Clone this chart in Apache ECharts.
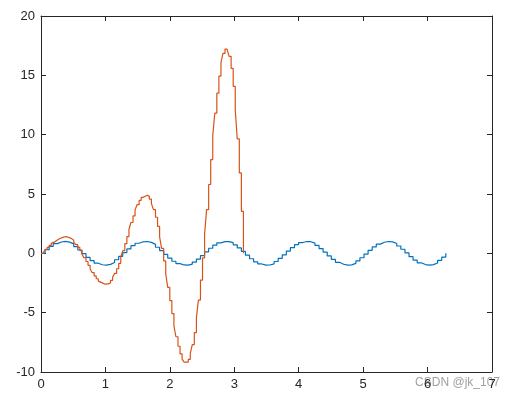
<!DOCTYPE html>
<html>
<head>
<meta charset="utf-8">
<script src="https://cdn.jsdelivr.net/npm/echarts@6/dist/echarts.min.js"></script>
<style>
  html, body { margin: 0; padding: 0; background: #fff; }
  #main { width: 510px; height: 403px; }
</style>
</head>
<body>
<div id="main"></div>
<script>
// stairs plot: blue sampled over [0, 2pi], orange over [0, pi], 100 samples each
var blueX = [
  0, 0.063, 0.127, 0.190, 0.254, 0.317, 0.381, 0.444, 0.508, 0.571,
  0.635, 0.698, 0.762, 0.825, 0.889, 0.952, 1.015, 1.079, 1.142, 1.206,
  1.269, 1.333, 1.396, 1.460, 1.523, 1.587, 1.650, 1.714, 1.777, 1.841,
  1.904, 1.967, 2.031, 2.094, 2.158, 2.221, 2.285, 2.348, 2.412, 2.475,
  2.539, 2.602, 2.666, 2.729, 2.793, 2.856, 2.919, 2.983, 3.046, 3.110,
  3.173, 3.237, 3.300, 3.364, 3.427, 3.491, 3.554, 3.618, 3.681, 3.745,
  3.808, 3.871, 3.935, 3.998, 4.062, 4.125, 4.189, 4.252, 4.316, 4.379,
  4.443, 4.506, 4.570, 4.633, 4.697, 4.760, 4.823, 4.887, 4.950, 5.014,
  5.077, 5.141, 5.204, 5.268, 5.331, 5.395, 5.458, 5.522, 5.585, 5.649,
  5.712, 5.775, 5.839, 5.902, 5.966, 6.029, 6.093, 6.156, 6.220, 6.283
];
var blueY = [
  0, 0.312, 0.593, 0.815, 0.955, 1.000, 0.945, 0.796, 0.567, 0.282,
  -0.032, -0.342, -0.618, -0.833, -0.964, -0.999, -0.934, -0.776, -0.541, -0.251,
  0.063, 0.372, 0.643, 0.850, 0.972, 0.997, 0.922, 0.756, 0.514, 0.220,
  -0.095, -0.401, -0.667, -0.866, -0.979, -0.994, -0.910, -0.735, -0.486, -0.189,
  0.127, 0.430, 0.690, 0.882, 0.985, 0.990, 0.896, 0.713, 0.458, 0.158,
  -0.158, -0.458, -0.713, -0.896, -0.990, -0.985, -0.882, -0.690, -0.430, -0.127,
  0.189, 0.486, 0.735, 0.910, 0.994, 0.979, 0.866, 0.667, 0.401, 0.095,
  -0.220, -0.514, -0.756, -0.922, -0.997, -0.972, -0.850, -0.643, -0.372, -0.063,
  0.251, 0.541, 0.776, 0.934, 0.999, 0.964, 0.833, 0.618, 0.342, 0.032,
  -0.282, -0.567, -0.796, -0.945, -1.000, -0.955, -0.815, -0.593, -0.312, 0
];
var orangeX = [
  0, 0.032, 0.063, 0.095, 0.127, 0.159, 0.190, 0.222, 0.254, 0.286,
  0.317, 0.349, 0.381, 0.413, 0.444, 0.476, 0.508, 0.539, 0.571, 0.603,
  0.635, 0.666, 0.698, 0.730, 0.762, 0.793, 0.825, 0.857, 0.889, 0.920,
  0.952, 0.984, 1.015, 1.047, 1.079, 1.111, 1.142, 1.174, 1.206, 1.238,
  1.269, 1.301, 1.333, 1.365, 1.396, 1.428, 1.460, 1.491, 1.523, 1.555,
  1.587, 1.618, 1.650, 1.682, 1.714, 1.745, 1.777, 1.809, 1.841, 1.872,
  1.904, 1.936, 1.967, 1.999, 2.031, 2.063, 2.094, 2.126, 2.158, 2.190,
  2.221, 2.253, 2.285, 2.317, 2.348, 2.380, 2.412, 2.443, 2.475, 2.507,
  2.539, 2.570, 2.602, 2.634, 2.666, 2.697, 2.729, 2.761, 2.793, 2.824,
  2.856, 2.888, 2.919, 2.951, 2.983, 3.015, 3.046, 3.078, 3.110, 3.142
];
var orangeY = [
  0, 0.16, 0.33, 0.50, 0.67, 0.84, 0.99, 1.12, 1.23, 1.32,
  1.37, 1.40, 1.38, 1.33, 1.24, 1.11, 0.94, 0.74, 0.50, 0.23,
  -0.06, -0.37, -0.69, -1.01, -1.32, -1.62, -1.90, -2.14, -2.34, -2.49,
  -2.59, -2.62, -2.58, -2.47, -2.28, -2.02, -1.69, -1.30, -0.84, -0.33,
  0.23, 0.81, 1.41, 2.01, 2.60, 3.15, 3.66, 4.10, 4.46, 4.72,
  4.87, 4.90, 4.80, 4.57, 4.19, 3.68, 3.04, 2.27, 1.39, 0.41,
  -0.64, -1.74, -2.87, -3.99, -5.08, -6.11, -7.03, -7.83, -8.47, -8.92,
  -9.16, -9.17, -8.94, -8.44, -7.69, -6.68, -5.42, -3.94, -2.25, -0.39,
  1.60, 3.68, 5.80, 7.90, 9.92, 11.81, 13.50, 14.94, 16.07, 16.85,
  17.21, 17.14, 16.60, 15.58, 14.07, 12.08, 9.64, 6.78, 3.54, 0
];
var xTicks = [0, 7, 1];
var yTicks = [-10, 20, 5];

function pairs(xs, ys) {
  return xs.map(function (x, i) { return [x, ys[i]]; });
}

var chart = echarts.init(document.getElementById('main'));
var axisCol = '#262626';
var font = 'Liberation Sans, Arial, sans-serif';

var option = {
  animation: false,
  backgroundColor: '#fff',
  grid: { left: 41, right: 18, top: 16, bottom: 31, containLabel: false },
  xAxis: [{
    type: 'value', min: xTicks[0], max: xTicks[1], interval: xTicks[2],
    axisLine: { show: true, onZero: false, lineStyle: { color: axisCol, width: 1 } },
    axisTick: { show: true, inside: true, length: 5, lineStyle: { color: axisCol } },
    axisLabel: { color: axisCol, fontSize: 13, fontFamily: font, margin: 6 },
    splitLine: { show: false }
  }, {
    type: 'value', position: 'top', min: xTicks[0], max: xTicks[1], interval: xTicks[2],
    axisLine: { show: true, onZero: false, lineStyle: { color: axisCol, width: 1 } },
    axisTick: { show: true, inside: true, length: 5, lineStyle: { color: axisCol } },
    axisLabel: { show: false },
    splitLine: { show: false }
  }],
  yAxis: [{
    type: 'value', min: yTicks[0], max: yTicks[1], interval: yTicks[2],
    axisLine: { show: true, onZero: false, lineStyle: { color: axisCol, width: 1 } },
    axisTick: { show: true, inside: true, length: 5, lineStyle: { color: axisCol } },
    axisLabel: { color: axisCol, fontSize: 13, fontFamily: font, margin: 6 },
    splitLine: { show: false }
  }, {
    type: 'value', position: 'right', min: yTicks[0], max: yTicks[1], interval: yTicks[2],
    axisLine: { show: true, onZero: false, lineStyle: { color: axisCol, width: 1 } },
    axisTick: { show: true, inside: true, length: 5, lineStyle: { color: axisCol } },
    axisLabel: { show: false },
    splitLine: { show: false }
  }],
  series: [{
    type: 'line', step: 'end', showSymbol: false,
    data: pairs(blueX, blueY),
    lineStyle: { color: '#0072BD', width: 1.2 },
    itemStyle: { color: '#0072BD' }
  }, {
    type: 'line', step: 'end', showSymbol: false,
    data: pairs(orangeX, orangeY),
    lineStyle: { color: '#D95319', width: 1.2 },
    itemStyle: { color: '#D95319' }
  }],
  graphic: [{
    type: 'text', right: 10, top: 377,
    style: { text: 'CSDN @jk_107', fill: '#a0a0a0', font: '12px ' + font }
  }]
};
chart.setOption(option);
</script>
</body>
</html>
